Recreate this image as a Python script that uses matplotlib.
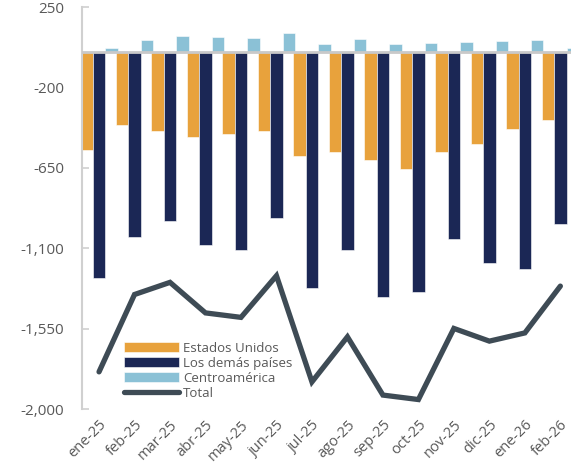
import numpy as np
import matplotlib.pyplot as plt
from matplotlib.ticker import FuncFormatter

plt.rcParams['font.family'] = ['Open Sans', 'DejaVu Sans']

months = ["ene-25", "feb-25", "mar-25", "abr-25", "may-25", "jun-25", "jul-25",
          "ago-25", "sep-25", "oct-25", "nov-25", "dic-25", "ene-26", "feb-26"]
estados_unidos = [-550, -410, -444, -478, -461, -444, -584, -562, -606, -657, -562, -517, -433, -382]
demas_paises = [-1267, -1038, -948, -1082, -1110, -932, -1323, -1110, -1374, -1346, -1049, -1183, -1217, -965]
centroamerica = [19, 67, 86, 84, 75, 106, 43, 71, 45, 47, 54, 60, 64, 22]
total = [-1792, -1359, -1291, -1462, -1487, -1254, -1848, -1596, -1922, -1947, -1549, -1620, -1574, -1312]
yticks = [250, -200, -650, -1100, -1550, -2000]

c_us = "#E8A23C"
c_demas = "#1B2755"
c_ca = "#8BC1D6"
c_total = "#3E4B55"
c_text = "#595959"

fig = plt.figure(figsize=(5.71, 4.71), dpi=100)
ax = fig.add_axes([0.1436, 0.1316, 0.8564, 0.8534])

x = np.arange(len(months))
w = 0.35
b1 = ax.bar(x - w, estados_unidos, w, color=c_us, edgecolor="white", linewidth=0.4,
            label="Estados Unidos", zorder=2)
b2 = ax.bar(x, demas_paises, w, color=c_demas, edgecolor="white", linewidth=0.4,
            label="Los demás países", zorder=2)
b3 = ax.bar(x + w, centroamerica, w, color=c_ca, edgecolor="white", linewidth=0.4,
            label="Centroamérica", zorder=2)
ax.axhline(0, color="#C9C9C9", linewidth=2, zorder=3)
ln, = ax.plot(x, total, color=c_total, linewidth=3.8, solid_capstyle="round",
              solid_joinstyle="miter", label="Total", zorder=4)

ax.set_xlim(-0.48, 13.3)
ax.set_ylim(-2000, 250)
ax.set_yticks(yticks)
ax.yaxis.set_major_formatter(FuncFormatter(lambda v, p: f"{int(v):,}"))
ax.tick_params(axis="y", direction="in", length=5, width=1.2, color="#D0D0D0",
               labelsize=11, labelcolor=c_text, pad=13)
ax.set_xticks(x)
ax.set_xticklabels(months, rotation=45, ha="right", rotation_mode="anchor")
ax.tick_params(axis="x", length=0, labelsize=10.5, labelcolor=c_text, pad=6)

for s in ["top", "right", "bottom"]:
    ax.spines[s].set_visible(False)
ax.spines["left"].set_color("#D0D0D0")
ax.spines["left"].set_linewidth(1.5)

leg = ax.legend([b1, b2, b3, ln], ["Estados Unidos", "Los demás países", "Centroamérica", "Total"],
                loc="lower left", bbox_to_anchor=(0.066, 0.0), frameon=False,
                fontsize=9.5, handlelength=4.2, handleheight=0.8, labelspacing=0.15,
                handletextpad=0.3, borderpad=0.2, labelcolor=c_text)

fig.savefig("out.png", dpi=100)
